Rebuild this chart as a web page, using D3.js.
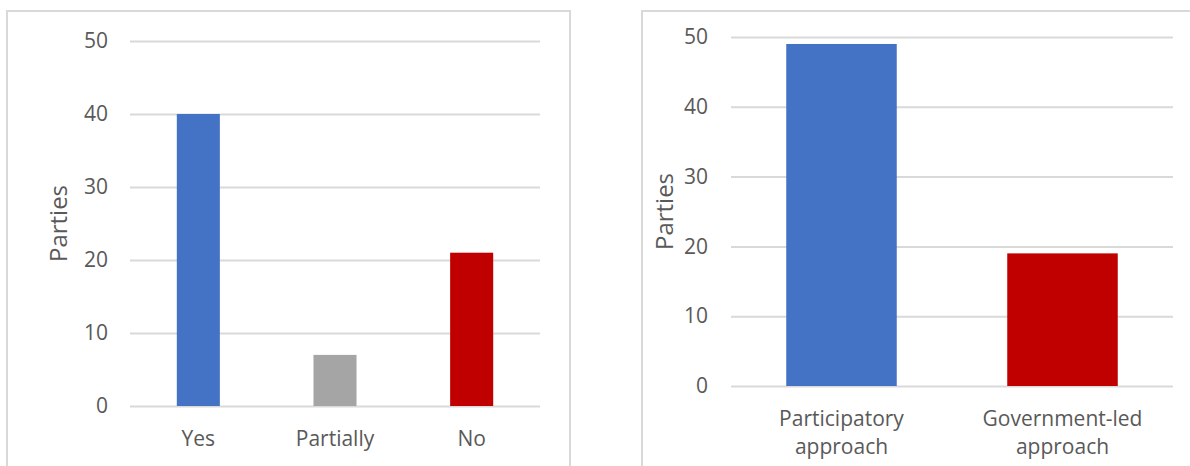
<!DOCTYPE html>
<html><head><meta charset="utf-8">
<script src="https://cdn.jsdelivr.net/npm/d3@7"></script>
<style>body{margin:0;background:#fff;} svg{display:block;} text{font-family:"Open Sans", sans-serif; fill:#595959;}</style>
</head><body>
<svg id="c" width="1190" height="466"></svg>
<script>
const leftCategories = ["Yes", "Partially", "No"];
const leftValues = [40, 7, 21];
const leftColors = ["#4472C4", "#A5A5A5", "#C00000"];
const rightCategories = [["Participatory", "approach"], ["Government-led", "approach"]];
const rightValues = [49, 19];
const rightColors = ["#4472C4", "#C00000"];
const yTicks = [0, 10, 20, 30, 40, 50];
const yTitle = "Parties";

const svg = d3.select("#c");

function panel(cfg) {
  const g = svg.append("g");
  g.append("rect").attr("x", cfg.box[0]).attr("y", cfg.box[1]).attr("width", cfg.box[2]).attr("height", cfg.box[3])
    .attr("fill", "none").attr("stroke", "#d9d9d9").attr("stroke-width", 2);
  const x = d3.scaleBand().domain(cfg.cats.map((d, i) => i)).range([cfg.x0, cfg.x1]).paddingInner(cfg.pad).paddingOuter(cfg.pad / 2);
  const y = d3.scaleLinear().domain([0, 50]).range([cfg.y0, cfg.y1]);
  const ax = d3.axisLeft(y).tickValues(yTicks).tickSize(-(cfg.x1 - cfg.x0)).tickPadding(cfg.tickPad);
  const ag = g.append("g").attr("transform", `translate(${cfg.x0},0)`).call(ax);
  ag.select(".domain").remove();
  ag.selectAll("line").attr("stroke", "#d9d9d9").attr("stroke-width", 2);
  ag.selectAll("text").attr("font-size", cfg.fs).style("fill", "#595959").attr("font-family", "'Open Sans', sans-serif");
  g.selectAll("rect.bar").data(cfg.vals).enter().append("rect").attr("class", "bar")
    .attr("x", (d, i) => x(i)).attr("width", x.bandwidth())
    .attr("y", d => y(d)).attr("height", d => y(0) - y(d))
    .attr("fill", (d, i) => cfg.colors[i]);
  cfg.cats.forEach((c, i) => {
    const lines = Array.isArray(c) ? c : [c];
    const t = g.append("text").attr("text-anchor", "middle").attr("font-size", cfg.fs)
      .attr("x", x(i) + x.bandwidth() / 2).attr("y", cfg.labelY);
    lines.forEach((l, j) => t.append("tspan").attr("x", x(i) + x.bandwidth() / 2).attr("dy", j === 0 ? 0 : cfg.lineH).text(l));
  });
  g.append("text").attr("transform", `translate(${cfg.titleX},${(cfg.y0 + cfg.y1) / 2}) rotate(-90)`)
    .attr("text-anchor", "middle").attr("font-size", cfg.tfs).text(yTitle);
}

panel({cats: leftCategories, vals: leftValues, colors: leftColors,
  box: [7, 11, 563, 470], x0: 130, x1: 540, y0: 406, y1: 41, pad: 0.685, tickPad: 22,
  fs: 21, tfs: 24, labelY: 446, lineH: 28, titleX: 67});
panel({cats: rightCategories, vals: rightValues, colors: rightColors,
  box: [642, 11, 560, 470], x0: 731, x1: 1173, y0: 386, y1: 37, pad: 0.5, tickPad: 23,
  fs: 21, tfs: 24, labelY: 426, lineH: 28, titleX: 673});
</script>
</body></html>
